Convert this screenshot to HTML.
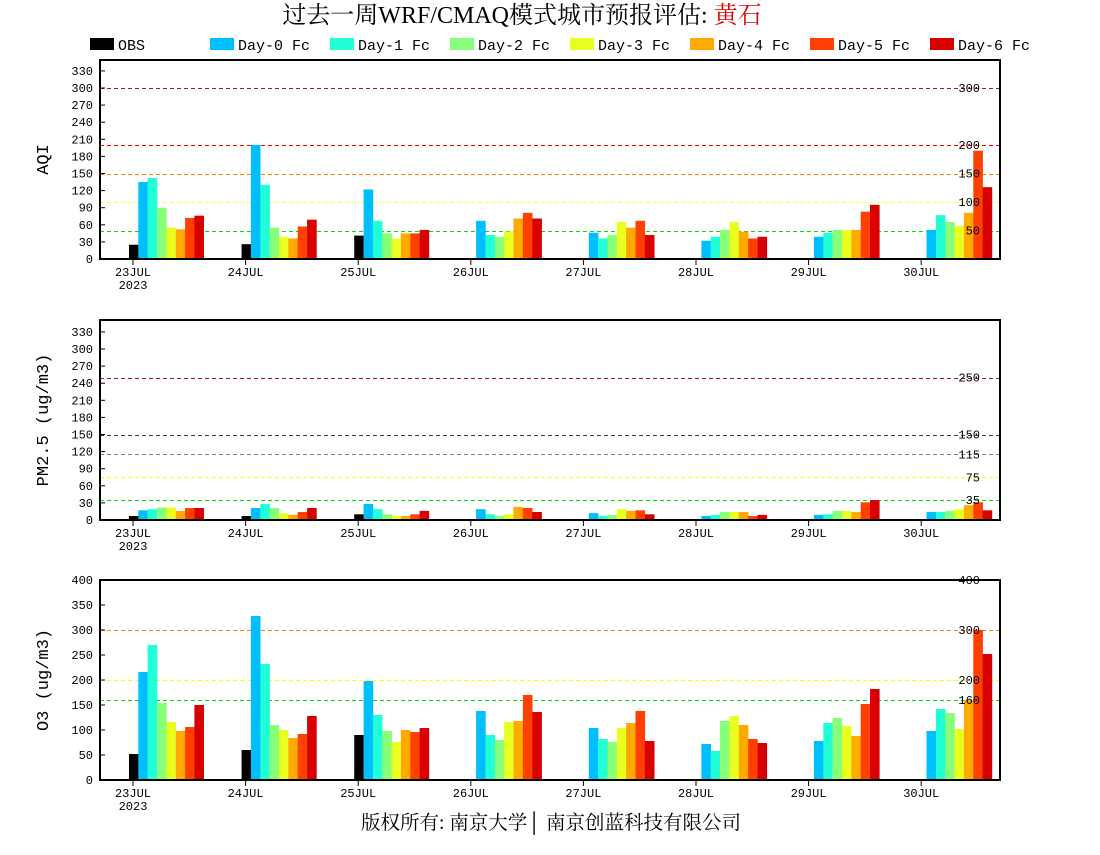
<!DOCTYPE html>
<html><head><meta charset="utf-8"><style>
body{margin:0;background:#fff;width:1100px;height:850px;overflow:hidden}
svg text{font-family:"Liberation Mono","Noto Serif CJK SC",monospace}
</style></head><body>
<svg id="s" width="1100" height="850" xmlns="http://www.w3.org/2000/svg">
<text x="522" y="23" text-anchor="middle" font-size="24" style="font-family:'Liberation Serif','Noto Serif CJK SC',serif">过去一周WRF/CMAQ模式城市预报评估: <tspan fill="#e00000">黄石</tspan></text>
<text x="551" y="829" text-anchor="middle" font-size="19.5" style="font-family:'Liberation Serif','Noto Serif CJK SC',serif">版权所有: 南京大学│ 南京创蓝科技有限公司</text>
<g id="g"></g>
</svg>
<script>
const C=["#000000","#00bfff","#20ffd8","#88ff78","#e8ff20","#ffaa00","#ff4000","#d80000"];
const N=["OBS","Day-0 Fc","Day-1 Fc","Day-2 Fc","Day-3 Fc","Day-4 Fc","Day-5 Fc","Day-6 Fc"];
const D=["23JUL","24JUL","25JUL","26JUL","27JUL","28JUL","29JUL","30JUL"];
let h="";
N.forEach((n,i)=>{let x=90+i*120;h+=`<rect x="${x}" y="38" width="24" height="12" fill="${C[i]}"/><text x="${x+28}" y="50" font-size="15">${n}</text>`;});
const P=[
{top:60,bot:259,max:330,step:30,sc:0.57,lab:"AQI",lines:[[300,"#a01040",1],[200,"#ff0000",1],[150,"#ff8000",1],[100,"#ffff40",0],[50,"#00dd00",1]],
v:[[25,135,142,90,55,52,72,76],[26,200,130,55,39,36,57,69],[41,122,67,45,36,45,45,51],[null,67,42,39,48,71,81,71],[null,46,36,42,65,55,67,42],[null,32,39,51,65,48,36,39],[null,39,46,51,51,51,83,95],[null,51,77,65,58,81,190,126]]},
{top:320,bot:520,max:330,step:30,sc:0.57,lab:"PM2.5 (ug/m3)",lines:[[250,"#a01060",1],[150,"#603030",1],[115,"#808080",1],[75,"#ffff00",1],[35,"#00dd00",1]],
v:[[7,17,19,22,22,16,21,21],[7,21,28,21,12,9,14,21],[10,28,19,10,7,7,10,16],[null,19,10,7,10,23,21,14],[null,12,7,9,19,16,17,10],[null,7,9,14,14,14,7,9],[null,9,10,16,16,14,31,35],[null,14,14,16,19,26,31,17]]},
{top:580,bot:780,max:400,step:50,sc:0.5,lab:"O3 (ug/m3)",lines:[[400,"#ff0000",1],[300,"#ff8000",1],[200,"#ffff00",1],[160,"#00dd00",1]],
v:[[52,216,270,154,116,98,106,150],[60,328,232,110,100,84,92,128],[90,198,130,98,76,100,96,104],[null,138,90,80,116,118,170,136],[null,104,82,76,104,114,138,78],[null,72,58,118,128,110,82,74],[null,78,114,124,108,88,152,182],[null,98,142,134,102,160,300,252]]}];
P.forEach(p=>{
 p.lines.forEach(l=>{let y=Math.round(p.bot-l[0]*p.sc)+0.5;h+=`<line x1="100" x2="1000" y1="${y}" y2="${y}" stroke="${l[1]}" stroke-dasharray="4,3" stroke-width="1"/>`;});
 p.v.forEach((d,di)=>{let t=133+di*112.6;d.forEach((v,i)=>{if(v==null)return;let hh=v*p.sc;h+=`<rect x="${(t-4+i*9.35).toFixed(1)}" y="${p.bot-hh}" width="9.6" height="${hh}" fill="${C[i]}"/>`;});
  h+=`<line x1="${t}" x2="${t}" y1="${p.bot}" y2="${p.bot+6}" stroke="#000"/><text x="${t}" y="${p.bot+17}" font-size="12" text-anchor="middle">${D[di]}</text>`;if(di==0)h+=`<text x="${t}" y="${p.bot+30}" font-size="12" text-anchor="middle">2023</text>`;});
 p.lines.forEach(l=>{let y=p.bot-l[0]*p.sc;h+=`<text x="980" y="${y+4}" font-size="12" text-anchor="end">${l[0]}</text>`;});
 for(let v=0;v<=p.max;v+=p.step){let y=p.bot-v*p.sc;h+=`<text x="93" y="${y+4}" font-size="12" text-anchor="end">${v}</text><line x1="100" x2="105" y1="${y}" y2="${y}" stroke="#000"/>`;}
 h+=`<rect x="100" y="${p.top}" width="900" height="${p.bot-p.top}" fill="none" stroke="#000" stroke-width="2"/>`;
 let cy=(p.top+p.bot)/2;h+=`<text transform="translate(48,${cy}) rotate(-90)" font-size="17" text-anchor="middle">${p.lab}</text>`;
});
document.getElementById("g").innerHTML=h;
</script>
</body></html>
